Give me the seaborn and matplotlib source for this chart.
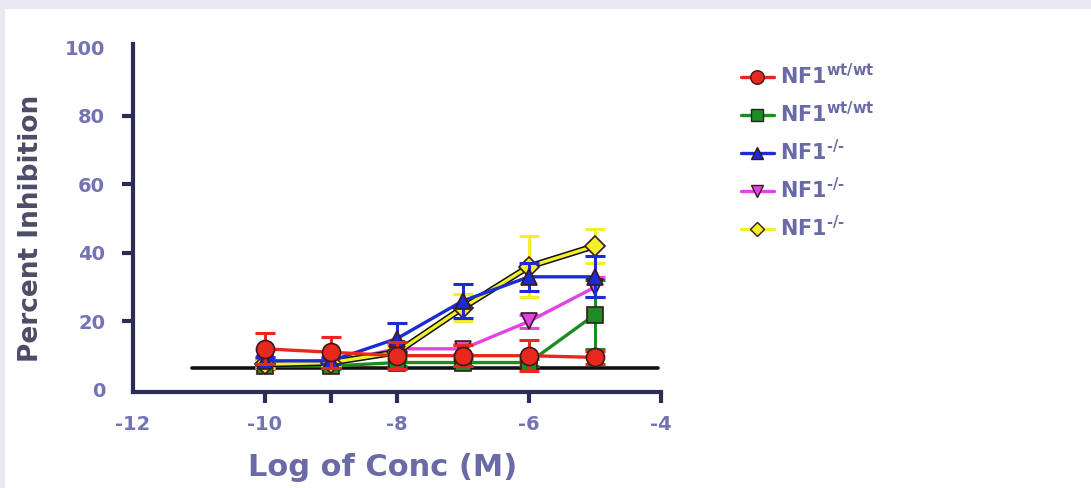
import numpy as np
import pandas as pd
import seaborn as sns
import matplotlib
matplotlib.use("Agg")
import matplotlib.pyplot as plt
from matplotlib.lines import Line2D

# log concentration (M) of each dose
log_conc = [-10, -9, -8, -7, -6, -5]

# percent inhibition per group
nf1_wt_a = [12, 11, 10, 10, 10, 9.5]
nf1_wt_b = [7, 7, 8, 8, 8, 22]
nf1_ko_a = [8.5, 8.5, 15, 26, 33, 33]
nf1_ko_b = [8, 8, 12, 12, 20, 30]
nf1_ko_c = [7.5, 8, 11, 24, 36, 42]

# standard errors
err_wt_a = [4.5, 4.5, 4, 3, 4.5, 2]
err_wt_b = [1, 1, 1, 1, 1, 10]
err_ko_a = [1, 1, 4.5, 5, 4, 6]
err_ko_b = [1, 1, 1.5, 1.5, 2, 3]
err_ko_c = [1, 1, 1.5, 4, 9, 5]

baseline = 6.5

HY = "\u2010"
labels = [r"NF1$^{wt/wt}$", r"NF1$^{wt/wt}$ ", "NF1$^{%s/%s}$" % (HY, HY),
          "NF1$^{%s/%s}$ " % (HY, HY), "NF1$^{%s/%s}$  " % (HY, HY)]
series = [nf1_wt_a, nf1_wt_b, nf1_ko_a, nf1_ko_b, nf1_ko_c]
errors = [err_wt_a, err_wt_b, err_ko_a, err_ko_b, err_ko_c]
colors = ["#e8281c", "#1c8c24", "#1c2cd2", "#e044e4", "#f2f028"]
markers = ["o", "s", "^", "v", "D"]
msizes = [13, 12, 12, 12, 10]

sns.set_theme(style="white")
plt.rcParams["font.family"] = ["DejaVu Sans"]
plt.rcParams["mathtext.default"] = "bf"
plt.rcParams["mathtext.fontset"] = "dejavusans"
plt.rcParams["axes.unicode_minus"] = False

fig = plt.figure(figsize=(10.91, 4.88), dpi=100)
fig.patch.set_facecolor("#e9e9f4")
panel = plt.Rectangle((5 / 1091, 0), 1 - 5 / 1091, 1 - 9 / 488,
                      transform=fig.transFigure, facecolor="white",
                      edgecolor="none", zorder=-10)
fig.patches.append(panel)

ax = fig.add_axes([133 / 1091, (488 - 391.7) / 488, 528 / 1091, 348.1 / 488])
ax.set_facecolor("none")

frames = []
for lab, vals in zip(labels, series):
    frames.append(pd.DataFrame({"conc": log_conc, "inhib": vals, "group": lab}))
df = pd.concat(frames, ignore_index=True)

# baseline
ax.plot([-11.1, -4.05], [baseline, baseline], color="#111111", lw=2.6, zorder=1.5)

draw_order = [1, 3, 4, 2, 0]
for i in draw_order:
    lab = labels[i]
    sub = df[df["group"] == lab]
    z = 3 + draw_order.index(i)
    ax.errorbar(sub["conc"], sub["inhib"], yerr=errors[i], fmt="none",
                ecolor=colors[i], elinewidth=2.2, capsize=7, capthick=2.2,
                zorder=z - 0.5)
    if i == 4:
        # dark edge along the yellow curve
        sns.lineplot(data=sub, x="conc", y="inhib", ax=ax, color="#111111",
                     linewidth=4.6, legend=False, zorder=z - 0.2)
    sns.lineplot(data=sub, x="conc", y="inhib", ax=ax, color=colors[i],
                 marker=markers[i], markersize=msizes[i],
                 markeredgecolor="#3a1a1a", markeredgewidth=1.2,
                 linewidth=2.4, legend=False, zorder=z)

ax.set_xlim(-12, -4)
ax.set_ylim(-0.5, 101)
sns.despine(ax=ax)
axis_col = "#2c2c55"
for s in ("left", "bottom"):
    ax.spines[s].set_color(axis_col)
    ax.spines[s].set_linewidth(3)

ax.set_xticks([-12, -10, -8, -6, -4])
ax.set_xticks([-9], minor=True)
ax.set_yticks([0, 20, 40, 60, 80, 100])
tick_col = "#7474b4"
ax.tick_params(axis="both", which="both", direction="out", color=axis_col,
               width=3, length=8, labelcolor=tick_col, labelsize=14,
               bottom=True, left=True)
ax.tick_params(axis="x", which="major", pad=9)
ax.tick_params(axis="y", pad=12)
for t in ax.get_xticklabels() + ax.get_yticklabels():
    t.set_fontweight("bold")
ax.xaxis.get_major_ticks()[0].tick1line.set_visible(False)
ax.yaxis.get_major_ticks()[0].tick1line.set_visible(False)
ax.yaxis.get_major_ticks()[-1].tick1line.set_visible(False)

ax.set_xlabel("Log of Conc (M)", fontsize=22, fontweight="bold",
              color="#6a6aa6")
ax.xaxis.set_label_coords(0.473, -0.175)
ax.set_ylabel("Percent Inhibition", fontsize=19, fontweight="bold",
              color="#4c4c68")
ax.yaxis.set_label_coords(-0.168, 0.47)

handles = [Line2D([0], [0], color=c, lw=2.4, marker=m, markersize=ms * 0.75,
                  markeredgecolor="#3a1a1a", markeredgewidth=1.0)
           for c, m, ms in zip(colors, markers, msizes)]
leg = fig.legend(handles, labels, loc="upper left",
                 bbox_to_anchor=(722 / 1091, 1 - 44 / 488), frameon=False,
                 handlelength=1.6, handletextpad=0.3, labelspacing=0.62,
                 prop={"weight": "bold", "size": 15})
for t in leg.get_texts():
    t.set_color("#6a6aa6")

fig.savefig("out.png", dpi=100, facecolor=fig.get_facecolor())
